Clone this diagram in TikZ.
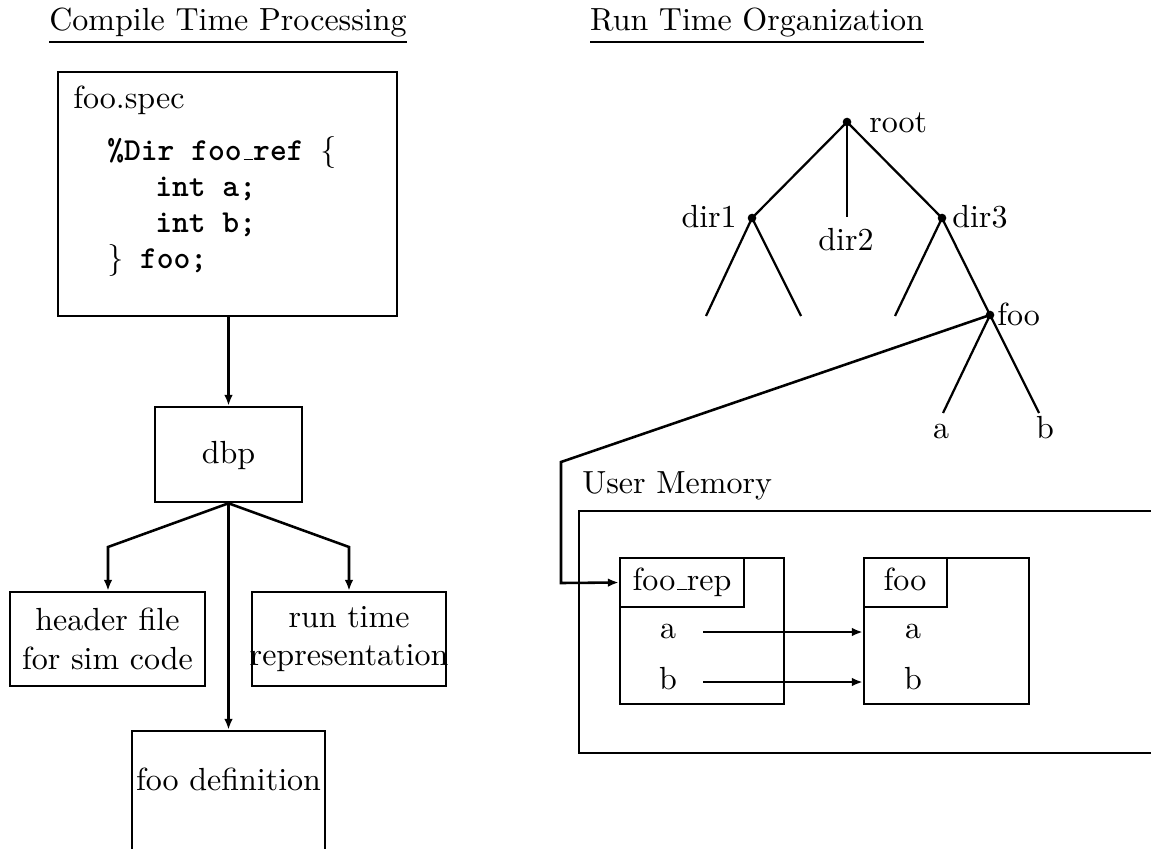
\documentclass[tikz,border=0pt]{standalone}
\usetikzlibrary{arrows.meta,fit}
% short low rule used as the underscore, as in plain TeX
\newcommand{\lowbar}{\leavevmode\kern.06em\vbox{\hrule width.3em height .45pt}}
\begin{document}
\begin{tikzpicture}[x=0.3125pt,y=-0.3125pt,
  line width=0.8pt,
  arr/.style={-{Latex[length=3.4pt,width=2.7pt]}},
  box/.style={draw,inner sep=0pt},
  lbl/.style={inner sep=0pt,anchor=base},
  code/.style={inner sep=0pt,anchor=base west,font=\ttfamily\bfseries},
  dot/.style={circle,fill,inner sep=0pt,minimum size=2.7pt},
  edge/.style={line width=0.7pt}]
\clip (0,0) rectangle (1151,848);

% ---- section titles
\node[lbl] (ttlL) at (228,31) {\underline{Compile Time Processing}};
\node[lbl] (ttlR) at (757,31) {\underline{Run Time Organization}};

% ---- compile time flow
\node[box,fit={(58,72) (397,316)}] (spec) {};
\node[lbl,anchor=base west] (specname) at (72,108) {foo.spec};
\node[code] (c1) at (106,160) {\%Dir foo\lowbar ref \textmd{\rmfamily\{}};
\node[code] (c2) at (154,196) {int a;};
\node[code] (c3) at (154,232) {int b;};
\node[code] (c4) at (106,268) {\textmd{\rmfamily\}} foo;};

\node[box,fit={(155,407) (302,502)}] (dbp) {};
\node[lbl] (dbptxt) at (228.5,463) {dbp};

\node[box,fit={(10,592) (205,686)}] (hdr) {};
\node[align=center,inner sep=0pt] (hdrtxt) at (hdr.center) {header file\\for sim code};

\node[box,fit={(252,592) (446,686)}] (rtr) {};
\node[align=center,inner sep=0pt] (rtrtxt) at (rtr.center) {run time\\representation};

\node[box,fit={(132,731) (325,870)}] (def) {};
\node[lbl] (deftxt) at (228.5,790) {foo definition};

\coordinate (bl) at (108,547);
\coordinate (br) at (349,547);
\draw[arr] (dbp.north |- spec.south) -- (dbp.north);
\draw[arr] (dbp.south) -- (bl) -- (bl |- hdr.north);
\draw[arr] (dbp.south) -- (br) -- (br |- rtr.north);
\draw[arr] (dbp.south) -- (dbp.south |- def.north);

% ---- directory tree
\node[dot] (root) at (847,122) {};
\node[dot] (dir1) at (752,218) {};
\coordinate (dir2) at (847,217);
\node[dot] (dir3) at (942,218) {};
\node[dot] (foo) at (990,315) {};
\coordinate (l1) at (706,316);
\coordinate (l2) at (801,316);
\coordinate (l3) at (895,316);
\coordinate (la) at (943,413);
\coordinate (lb) at (1039,413);

\draw[edge] (root.center) -- (dir1.center);
\draw[edge] (root.center) -- (dir2);
\draw[edge] (root.center) -- (dir3.center);
\draw[edge] (dir1.center) -- (l1);
\draw[edge] (dir1.center) -- (l2);
\draw[edge] (dir3.center) -- (l3);
\draw[edge] (dir3.center) -- (foo.center);
\draw[edge] (foo.center) -- (la);
\draw[edge] (foo.center) -- (lb);

\node[lbl,anchor=base west] (rootlbl) at (868,132) {root};
\node[lbl,anchor=base east] (dir1lbl) at (738,227) {dir1};
\node[lbl] (dir2lbl) at (846,250) {dir2};
\node[lbl,anchor=base west] (dir3lbl) at (951,227) {dir3};
\node[lbl,anchor=base west] (foolbl) at (996,325) {foo};
\node[lbl] (alb) at (941,438) {a};
\node[lbl] (blb) at (1045,438) {b};

% ---- user memory
\node[lbl,anchor=base west] (umlbl) at (581,493) {User Memory};
\draw (1170,511) -- (579,511) -- (579,753) -- (1170,753);

\node[box,fit={(620,558) (784,704)}] (rep) {};
\node[box,fit={(620,558) (744,607)}] (reph) {};
\node[lbl] (reptxt) at (682,590) {foo\lowbar rep};
\node[lbl] (repa) at (668,638) {a};
\node[lbl] (repb) at (668,689) {b};

\node[box,fit={(864,558) (1029,704)}] (fbox) {};
\node[box,fit={(864,558) (947,607)}] (fboxh) {};
\node[lbl] (ftxt) at (905,590) {foo};
\node[lbl] (fa) at (913,638) {a};
\node[lbl] (fb) at (913,689) {b};

\coordinate (aout) at (703,632);
\coordinate (bout) at (703,682);
\draw[arr] (aout) -- (aout -| fbox.west);
\draw[arr] (bout) -- (bout -| fbox.west);

% link from the tree entry to its representation
\coordinate (k1) at (561,462);
\coordinate (k2) at (561,583);
\draw[arr] (foo.center) -- (k1) -- (k2) -- (reph.west);
\end{tikzpicture}
\end{document}
